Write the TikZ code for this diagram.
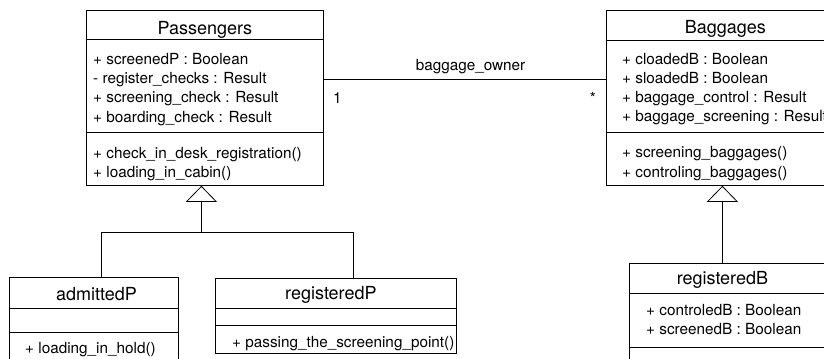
\documentclass[tikz,border=0pt]{standalone}
\usepackage{fontspec}
\setmainfont{TeX Gyre Heros}
\usetikzlibrary{arrows.meta,calc,positioning}
\tikzset{
  cls/.style     = {draw, line width=0.8bp, anchor=north west, inner sep=0pt},
  ttl/.style     = {anchor=base, inner sep=0pt, font=\fontsize{18bp}{21bp}\selectfont},
  mem/.style     = {anchor=base west, inner sep=0pt, font=\fontsize{15.3bp}{18bp}\selectfont},
  wire/.style    = {line width=0.8bp},
  inherit/.style = {line width=0.8bp, -{Triangle[open, length=16bp, width=31bp]}},
}

\begin{document}
\begin{tikzpicture}[x=1bp,y=1bp]
  \useasboundingbox (0,0) rectangle (824,-358);
  \clip (0,0) rectangle (824,-358);
  % classes
  \node[cls, minimum width=237bp, minimum height=175bp]   (pass) at (86,-10)   {};
  \node[cls, minimum width=232bp, minimum height=175.5bp] (bag)  at (606,-9.5) {};
  \node[cls, minimum width=169bp, minimum height=100bp]   (adm)  at (9,-277)   {};
  \node[cls, minimum width=241bp, minimum height=75bp]    (regp) at (215,-278) {};
  \node[cls, minimum width=232bp, minimum height=110bp]   (regb) at (629,-263) {};
  % compartments
  \foreach \c/\a/\b in {pass/29/122, bag/30.5/122.5, adm/31/55, regp/30/47, regb/30/84}
    \draw[wire] ($(\c.north west)+(0,-\a)$) -- ($(\c.north east)+(0,-\a)$)
                ($(\c.north west)+(0,-\b)$) -- ($(\c.north east)+(0,-\b)$);
  % titles
  \node[ttl] (pass-t) at ($(pass.north)+(0,-24)$)    {Passengers};
  \node[ttl] (bag-t)  at ($(bag.north)+(3,-24)$)     {Baggages};
  \node[ttl] (adm-t)  at ($(adm.north)+(2.5,-23)$)   {admittedP};
  \node[ttl] (regp-t) at ($(regp.north)+(-5,-21.5)$) {registeredP};
  \node[ttl] (regb-t) at ($(regb.north)+(-23,-21.5)$) {registeredB};
  % members
  \foreach \dy/\txt [count=\i] in {54.5/{+ screenedP : Boolean}, 73.7/{- register\_checks : Result},
                                   92.9/{+ screening\_check : Result}, 112.1/{+ boarding\_check : Result},
                                   148.3/{+ check\_in\_desk\_registration()}, 167.5/{+ loading\_in\_cabin()}}
    \node[mem] (pass-\i) at ($(pass.north west)+(7,-\dy)$) {\txt};
  \foreach \dy/\txt [count=\i] in {54.5/{+ cloadedB : Boolean}, 73.7/{+ sloadedB : Boolean},
                                   92.9/{+ baggage\_control : Result}, 112.1/{+ baggage\_screening : Result},
                                   148.3/{+ screening\_baggages()}, 167.5/{+ controling\_baggages()}}
    \node[mem] (bag-\i) at ($(bag.north west)+(16,-\dy)$) {\txt};
  \node[mem] (adm-1)  at ($(adm.north west)+(16,-76.3)$)  {+ loading\_in\_hold()};
  \node[mem] (regp-1) at ($(regp.north west)+(17,-69.3)$) {+ passing\_the\_screening\_point()};
  \foreach \dy/\txt [count=\i] in {52/{+ controledB : Boolean}, 71/{+ screenedB : Boolean}}
    \node[mem] (regb-\i) at ($(regb.north west)+(17,-\dy)$) {\txt};
  % association
  \coordinate (own) at (0,-79);
  \draw[wire] (pass.east |- own) -- node[mem, pos=0.52, anchor=base, yshift=9bp] (own-lbl) {baggage\_owner}
              (bag.west |- own);
  \node[mem] (mult-p) at ($(pass.east |- own)+(9,-24)$) {1};
  \node[mem, anchor=base east] (mult-b) at ($(bag.west |- own)+(-10,-24)$) {*};
  % generalisation
  \coordinate (pass-tip) at ($(pass.south)+(-3.5,0)$);
  \coordinate (fork) at ($(pass-tip)+(0,-47)$);
  \draw[inherit] (fork) -- (pass-tip);
  \draw[wire] ($(adm.north west)+(92,0)$) |- (fork) -| ($(regp.north west)+(138,0)$);
  \draw[inherit] (regb.north -| bag.south) -- (bag.south);
\end{tikzpicture}
\end{document}
